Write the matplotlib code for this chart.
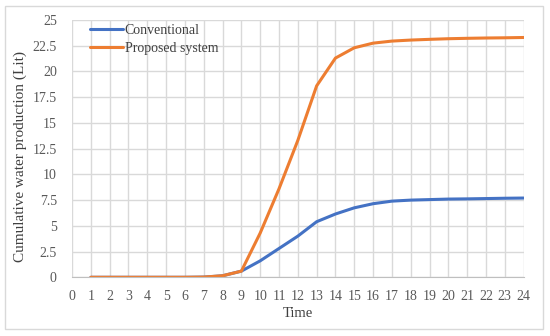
import matplotlib
matplotlib.use("Agg")
import matplotlib.pyplot as plt
from matplotlib.patches import Rectangle

time = list(range(1, 25))
conventional = [0, 0, 0, 0, 0, 0, 0.02, 0.15, 0.6, 1.6, 2.8, 4.0, 5.4, 6.15, 6.75, 7.15, 7.4, 7.5, 7.55, 7.6, 7.62, 7.65, 7.68, 7.7]
proposed = [0, 0, 0, 0, 0, 0, 0.02, 0.15, 0.6, 4.3, 8.6, 13.3, 18.6, 21.3, 22.3, 22.75, 22.95, 23.05, 23.12, 23.18, 23.22, 23.25, 23.27, 23.3]
xticks = list(range(0, 25))
yticks = [0, 2.5, 5, 7.5, 10, 12.5, 15, 17.5, 20, 22.5, 25]

plt.rcParams['font.family'] = ['Liberation Serif', 'DejaVu Serif']

fig = plt.figure(figsize=(5.5, 3.36), dpi=100)
ax = fig.add_axes([0.131, 0.1747, 0.821, 0.7658])

fig.patches.append(Rectangle((5/550, 1-329/336), 538/550, 323/336, transform=fig.transFigure,
                             fill=False, edgecolor='#d9d9d9', linewidth=1.0))

ax.plot(time, conventional, color='#4472C4', lw=2.2, label='Conventional', solid_joinstyle='round', solid_capstyle='round')
ax.plot(time, proposed, color='#ED7D31', lw=2.2, label='Proposed system', solid_joinstyle='round', solid_capstyle='round')

ax.set_xlim(0, 24)
ax.set_ylim(0, 25)
ax.set_xticks(xticks)
ax.set_yticks(yticks)
ax.set_yticklabels([f"{v:g}" for v in yticks])
ax.grid(True, color='#d9d9d9', linewidth=1.0)
ax.set_axisbelow(True)
for s in ax.spines.values():
    s.set_visible(False)
ax.spines['bottom'].set_visible(True)
ax.spines['bottom'].set_color('#bfbfbf')
ax.tick_params(length=0, labelsize=10, colors='#595959')
ax.tick_params(axis='y', pad=11)
ax.tick_params(axis='x', pad=9)

ax.set_xlabel('Time', fontsize=10.5, color='#404040', labelpad=3)
ax.set_ylabel('Cumulative water production (Lit)', fontsize=11, color='#404040')
ax.yaxis.set_label_coords(-0.1, 0.47)

leg = ax.legend(loc='upper left', frameon=False, fontsize=10, handlelength=2.4, handletextpad=0.1,
                borderaxespad=0.0, borderpad=0.0, bbox_to_anchor=(0.04, 0.985), labelspacing=0.35)
for t in leg.get_texts():
    t.set_color('#404040')

fig.savefig('out.png', dpi=100)
